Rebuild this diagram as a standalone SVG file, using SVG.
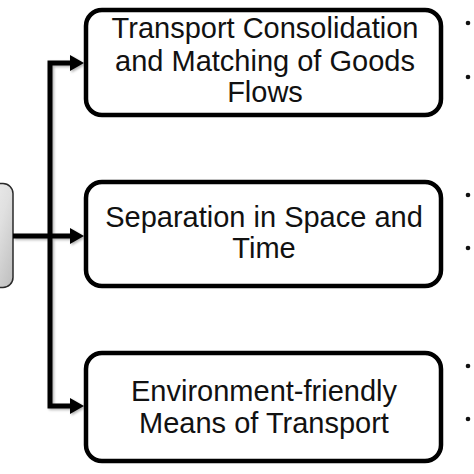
<svg xmlns="http://www.w3.org/2000/svg" width="474" height="474" viewBox="0 0 474 474">
  <style>
    .box { fill: #ffffff; stroke: #000000; stroke-width: 4.5; }
    .lbl { font-family: "Liberation Sans", Arial, sans-serif; font-size: 29px; fill: #111111; text-anchor: middle; }
    .wire { fill: none; stroke: #000000; stroke-width: 5; stroke-linejoin: miter; stroke-linecap: butt; }
    .head { fill: #000000; }
    .dot { fill: #111111; }
  </style>
  <defs>
    <linearGradient id="gray" x1="0" y1="0" x2="1" y2="1">
      <stop offset="0" stop-color="#f2f2f2"/>
      <stop offset="0.5" stop-color="#e0e0e0"/>
      <stop offset="1" stop-color="#bdbdbd"/>
    </linearGradient>
    <filter id="sh" x="-20%" y="-20%" width="140%" height="140%">
      <feDropShadow dx="1.5" dy="1.5" stdDeviation="1" flood-color="#000000" flood-opacity="0.3"/>
    </filter>
  </defs>

  <g id="root">
    <rect x="-20" y="183.5" width="33" height="104" rx="10" fill="url(#gray)" stroke="#2a2a2a" stroke-width="1.5"/>
  </g>

  <g id="connectors" filter="url(#sh)">
    <path class="wire" d="M13,236 H72" stroke-width="5.5"/>
    <path class="wire" d="M72,63 H50 V406 H72"/>
    <polygon class="head" points="70,55 84,63 70,71"/>
    <polygon class="head" points="70,228 84,236 70,244"/>
    <polygon class="head" points="70,398 84,406 70,414"/>
  </g>

  <g id="node1">
    <rect class="box" x="86" y="10" width="355" height="105" rx="16"/>
    <text class="lbl" x="265" y="38">Transport Consolidation</text>
    <text class="lbl" x="265" y="71">and Matching of Goods</text>
    <text class="lbl" x="265" y="102">Flows</text>
  </g>

  <g id="node2">
    <rect class="box" x="86" y="182" width="355" height="104" rx="16"/>
    <text class="lbl" x="264" y="227">Separation in Space and</text>
    <text class="lbl" x="264" y="258">Time</text>
  </g>

  <g id="node3">
    <rect class="box" x="86" y="353" width="355" height="108" rx="16"/>
    <text class="lbl" x="264" y="401">Environment-friendly</text>
    <text class="lbl" x="264" y="433">Means of Transport</text>
  </g>

  <g id="bullets">
    <circle class="dot" cx="468" cy="23" r="2.3"/>
    <circle class="dot" cx="468" cy="77" r="2.3"/>
    <circle class="dot" cx="468" cy="195" r="2.3"/>
    <circle class="dot" cx="468" cy="248" r="2.3"/>
    <circle class="dot" cx="468" cy="366" r="2.3"/>
    <circle class="dot" cx="468" cy="419" r="2.3"/>
  </g>
</svg>
